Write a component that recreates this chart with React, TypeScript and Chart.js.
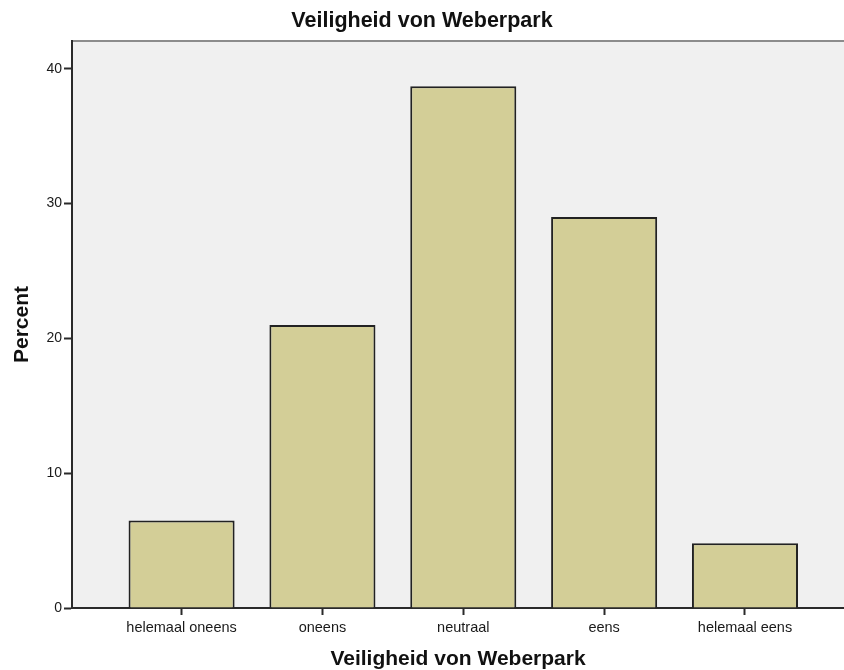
import React, { useEffect, useRef } from "react";
import { Chart, registerables } from "chart.js";

Chart.register(...registerables);

const chartTitle = "Veiligheid von Weberpark";
const xAxisTitle = "Veiligheid von Weberpark";
const yAxisTitle = "Percent";
const categories = ["helemaal oneens", "oneens", "neutraal", "eens", "helemaal eens"];
const percentValues = [6.5, 21.0, 38.7, 29.0, 4.8];
const yTicks = [0, 10, 20, 30, 40];

const FONT = "'Liberation Sans', Arial, sans-serif";

const plotBackground = {
  id: "plotBackground",
  beforeDraw(chart: any) {
    const { ctx, chartArea } = chart;
    ctx.save();
    ctx.fillStyle = "#f0f0f0";
    ctx.fillRect(chartArea.left, chartArea.top, chartArea.right - chartArea.left, chartArea.bottom - chartArea.top);
    ctx.strokeStyle = "#8c8c8c";
    ctx.lineWidth = 2;
    ctx.beginPath();
    ctx.moveTo(chartArea.left, chartArea.top);
    ctx.lineTo(chartArea.right, chartArea.top);
    ctx.stroke();
    ctx.restore();
  },
};

export default function App() {
  const canvasRef = useRef<HTMLCanvasElement | null>(null);

  useEffect(() => {
    document.body.style.margin = "0";
    const canvas = canvasRef.current;
    if (!canvas) return;
    const chart = new Chart(canvas, {
      type: "bar",
      data: {
        datasets: [
          {
            label: yAxisTitle,
            data: percentValues.map((v, i) => ({ x: i, y: v })),
            backgroundColor: "#d3ce97",
            borderColor: "#222222",
            borderWidth: 2,
            categoryPercentage: 1,
            barPercentage: 0.753,
          },
        ],
      },
      plugins: [plotBackground],
      options: {
        responsive: false,
        animation: false,
        layout: { padding: 0 },
        plugins: {
          legend: { display: false },
          tooltip: { enabled: false },
          title: {
            display: true,
            text: chartTitle,
            color: "#111",
            font: { family: FONT, size: 21.5, weight: "bold", lineHeight: 1.2 },
            padding: { top: 8, bottom: 7.2 },
          },
        },
        scales: {
          x: {
            type: "linear",
            min: -0.778,
            max: 4.703,
            offset: false,
            afterBuildTicks: (scale: any) => {
              scale.ticks = categories.map((_, i) => ({ value: i }));
            },
            afterFit: (scale: any) => {
              scale.height = 62;
            },
            ticks: {
              autoSkip: false,
              maxRotation: 0,
              includeBounds: false,
              padding: 4,
              color: "#1a1a1a",
              font: { family: FONT, size: 14.5 },
              callback: (value: any) => categories[Math.round(Number(value))] ?? "",
            },
            grid: {
              offset: false,
              drawOnChartArea: false,
              drawTicks: true,
              tickLength: 7,
              tickWidth: 2,
              color: "#2a2a2a",
            },
            border: { display: true, color: "#2a2a2a", width: 2 },
            title: {
              display: true,
              text: xAxisTitle,
              color: "#111",
              font: { family: FONT, size: 21, weight: "bold", lineHeight: 1 },
              padding: { top: 0, bottom: 0 },
            },
          },
          y: {
            type: "linear",
            min: 0,
            max: 42.06,
            afterBuildTicks: (scale: any) => {
              scale.ticks = yTicks.map((v) => ({ value: v }));
            },
            afterFit: (scale: any) => {
              scale.width = 72;
            },
            ticks: {
              includeBounds: false,
              padding: 2,
              color: "#1a1a1a",
              font: { family: FONT, size: 14 },
            },
            grid: {
              drawOnChartArea: false,
              drawTicks: true,
              tickLength: 8,
              tickWidth: 2,
              color: "#2a2a2a",
            },
            border: { display: true, color: "#2a2a2a", width: 2 },
            title: {
              display: true,
              text: yAxisTitle,
              color: "#111",
              font: { family: FONT, size: 21, weight: "bold", lineHeight: 1.2 },
              padding: { top: 10, bottom: 0 },
            },
          },
        },
      },
    } as any);
    return () => chart.destroy();
  }, []);

  return (
    <div style={{ width: 844, height: 670, background: "#ffffff" }}>
      <canvas ref={canvasRef} width={844} height={670} style={{ display: "block" }} />
    </div>
  );
}
